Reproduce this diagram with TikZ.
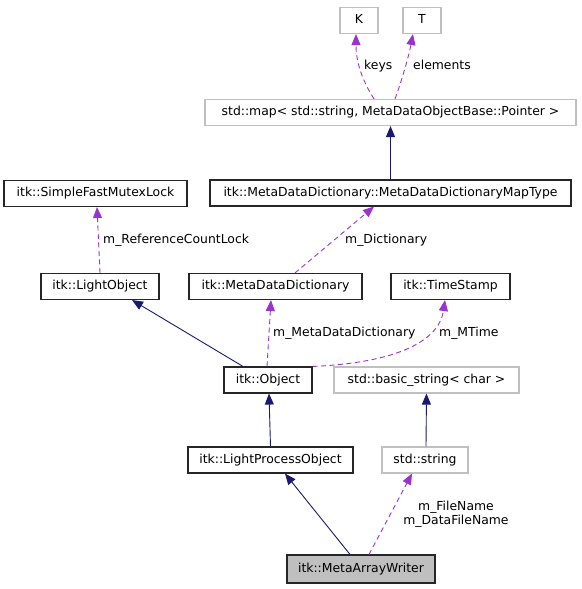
\documentclass[tikz,border=0pt]{standalone}
\usepackage{fontspec}
\setmainfont{DejaVu Sans}
\usetikzlibrary{arrows.meta,calc}
\definecolor{edgenavy}{RGB}{25,25,112}
\definecolor{edgepurple}{RGB}{154,50,205}
\definecolor{grayborder}{RGB}{191,191,191}
\definecolor{nodefill}{RGB}{191,191,191}
\begin{document}
\begin{tikzpicture}[x=1pt,y=-1pt,
  font=\fontsize{12.4}{14.5}\selectfont,
  cls/.style={draw=black!85,line width=1.1pt,fill=white,inner sep=0pt,minimum height=26pt,text height=9.3pt,text depth=2.6pt},
  ext/.style={cls,draw=grayborder},
  focus/.style={cls,fill=nodefill},
  inh/.style={draw=edgenavy,line width=0.9pt,-{Triangle[length=11pt,width=9pt]}},
  dep/.style={draw=edgepurple,line width=0.9pt,dash pattern=on 5pt off 3.5pt,-{Triangle[length=11pt,width=9pt]}},
  lbl/.style={inner sep=0pt,text height=9.3pt,text depth=2.6pt}]
\useasboundingbox (0,0) rectangle (581,589);
% nodes
\node[ext,minimum width=38pt]  (K)    at (359,20.5)  {K};
\node[ext,minimum width=38pt]  (T)    at (422,20.5)  {T};
\node[ext,minimum width=371pt] (map)  at (390.5,112.5) {std::map< std::string, MetaDataObjectBase::Pointer >};
\node[cls,minimum width=361pt] (mtype) at (390.5,193) {itk::MetaDataDictionary::MetaDataDictionaryMapType};
\node[cls,minimum width=183pt] (sfml) at (95.5,193.5) {itk::SimpleFastMutexLock};
\node[cls,minimum width=118pt] (lobj) at (100,286.5) {itk::LightObject};
\node[cls,minimum width=173pt] (mdd)  at (275.5,286.5) {itk::MetaDataDictionary};
\node[cls,minimum width=119pt] (ts)   at (450.5,286.5) {itk::TimeStamp};
\node[cls,minimum width=88pt]  (obj)  at (268,380) {itk::Object};
\node[ext,minimum width=185pt] (bstr) at (426.5,380) {std::basic\_string< char >};
\node[cls,minimum width=165pt] (lpo)  at (270.5,460) {itk::LightProcessObject};
\node[ext,minimum width=86pt]  (str)  at (425,460) {std::string};
\node[focus,minimum width=148pt,minimum height=28pt] (maw) at (361,569) {itk::MetaArrayWriter};
% edges
\draw[dep] ([xshift=-16.5pt]map.north) .. controls (362,80) and (356,62) .. ([xshift=-3pt]K.south);
\node[lbl,anchor=west] (lkeys) at (364,66) {keys};
\draw[dep] ([xshift=4.5pt]map.north) .. controls (402,80) and (409,55) .. ([xshift=-9pt]T.south);
\node[lbl,anchor=west] (lelem) at (413,66) {elements};
\draw[inh] (mtype.north) -- (map.south);
\draw[dep] ([xshift=19.5pt]mdd.north) -- ([xshift=-16.5pt]mtype.south);
\node[lbl,anchor=west] (ldict) at (345,240) {m\_Dictionary};
\draw[dep] (lobj.north) -- ([xshift=1.5pt]sfml.south);
\node[lbl,anchor=west] (lrcl) at (103,240) {m\_ReferenceCountLock};
\draw[inh] ([xshift=-25pt]obj.north) -- ([xshift=32pt]lobj.south);
\draw[dep] ([xshift=-1pt]obj.north) -- ([xshift=-4.5pt]mdd.south);
\node[lbl,anchor=west] (lmdd) at (273,333) {m\_MetaDataDictionary};
\draw[dep] (obj.north east) .. controls (410,362) and (440,335) .. ([xshift=-5.5pt]ts.south);
\node[lbl,anchor=west] (lmt) at (439,333) {m\_MTime};
\draw[inh] (lpo.north) -- ([xshift=1pt]obj.south);
\draw[inh] ([xshift=1pt]str.north) -- (bstr.south);
\draw[inh] ([xshift=-11pt]maw.north) -- ([xshift=14.5pt]lpo.south);
\draw[dep] ([xshift=8pt]maw.north) -- ([xshift=-13pt]str.south);
\node[lbl,align=center,text height=,text depth=] (lfn) at (456,514) {m\_FileName\\m\_DataFileName};
\end{tikzpicture}
\end{document}
